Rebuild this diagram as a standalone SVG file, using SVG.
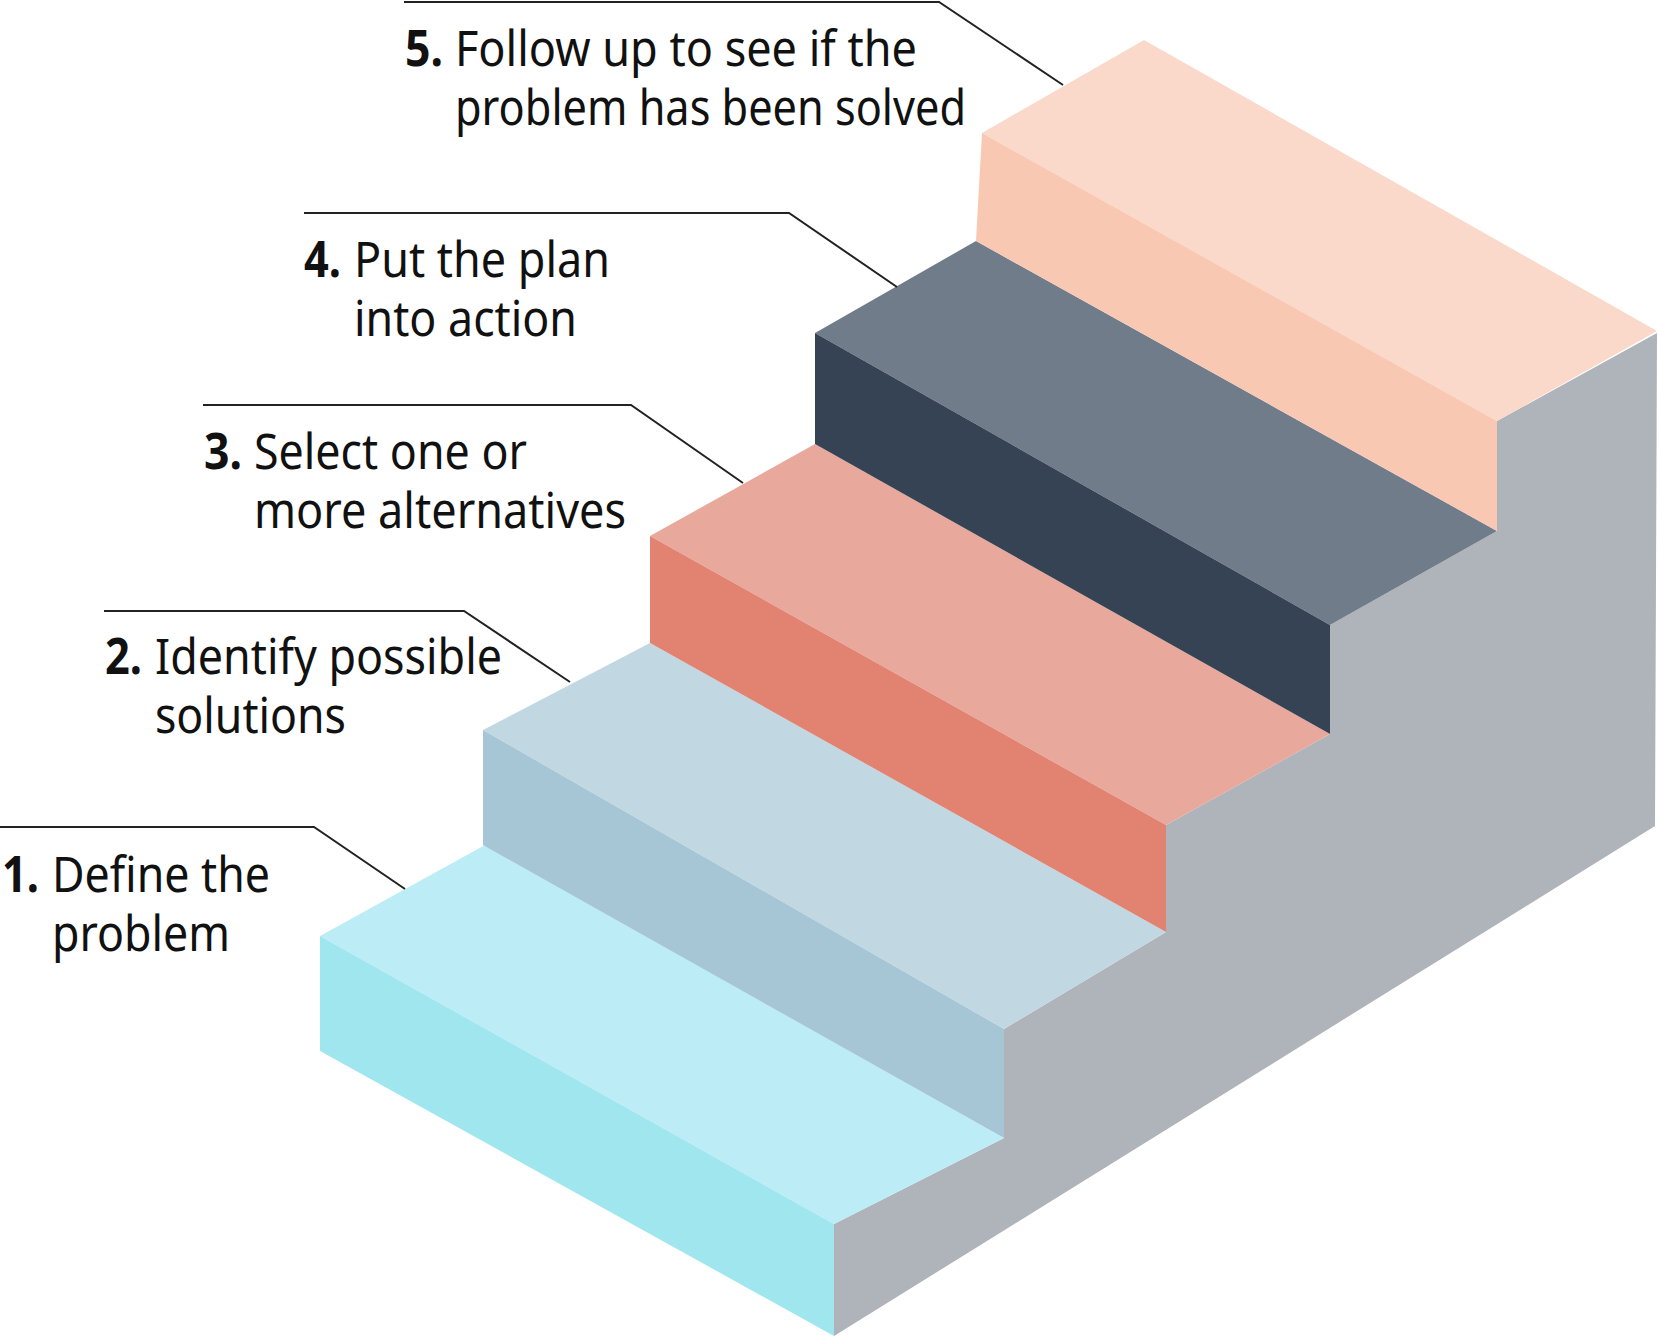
<svg xmlns="http://www.w3.org/2000/svg" width="1659" height="1337" viewBox="0 0 1659 1337">
<style>
.t{font-family:"Noto Sans","Open Sans","Liberation Sans",sans-serif;font-size:50px;fill:#111}
.b{font-weight:bold}
.ld{fill:none;stroke:#222;stroke-width:2}
</style>
<rect width="1659" height="1337" fill="#fff"/>
<g id="side">
<polygon fill="#AFB3BA" points="834,1336 834,1224 1004,1138 1004,1029 1166,932 1166,825 1330,734 1330,625 1497,531 1497,421 1657,333 1655,826"/>
</g>
<g id="step1">
<polygon fill="#BCEDF7" points="320,936 485,845 1004,1138 834,1224"/>
<polygon fill="#A0E6EF" points="320,936 834,1224 834,1336 320,1051"/>
</g>
<g id="step2">
<polygon fill="#C1D8E3" points="483,730 650,643 1166,932 1004,1029"/>
<polygon fill="#A7C6D5" points="483,730 1004,1029 1004,1138 483,845"/>
</g>
<g id="step3">
<polygon fill="#E8A89B" points="650,536 815,444 1330,734 1166,825"/>
<polygon fill="#E18370" points="650,536 1166,825 1166,932 650,643"/>
</g>
<g id="step4">
<polygon fill="#717C8A" points="815,333 976,241 1497,531 1330,625"/>
<polygon fill="#354354" points="815,333 1330,625 1330,734 815,444"/>
</g>
<g id="step5">
<polygon fill="#FAD9CA" points="982,133 1144,40 1657,331 1497,421"/>
<polygon fill="#F8C8B2" points="982,133 1497,421 1497,531 976,241"/>
</g>
<g id="connectors">
<polyline class="ld" points="404,2 939,2 1063,85"/>
<polyline class="ld" points="304,213 789,213 897,287"/>
<polyline class="ld" points="203,405 631,405 743,483"/>
<polyline class="ld" points="104,611 464,611 570,682"/>
<polyline class="ld" points="0,827 314,827 405,889"/>
</g>
<g id="label1">
<text class="t"><tspan class="b" x="2" y="892" textLength="37" lengthAdjust="spacingAndGlyphs">1.</tspan><tspan x="52" y="892" textLength="218" lengthAdjust="spacingAndGlyphs">Define the</tspan><tspan x="52" y="951" textLength="178" lengthAdjust="spacingAndGlyphs">problem</tspan></text>
</g>
<g id="label2">
<text class="t"><tspan class="b" x="105" y="674" textLength="37" lengthAdjust="spacingAndGlyphs">2.</tspan><tspan x="155" y="674" textLength="347" lengthAdjust="spacingAndGlyphs">Identify possible</tspan><tspan x="155" y="733" textLength="191" lengthAdjust="spacingAndGlyphs">solutions</tspan></text>
</g>
<g id="label3">
<text class="t"><tspan class="b" x="204" y="469" textLength="38" lengthAdjust="spacingAndGlyphs">3.</tspan><tspan x="254" y="469" textLength="273" lengthAdjust="spacingAndGlyphs">Select one or</tspan><tspan x="254" y="528" textLength="372" lengthAdjust="spacingAndGlyphs">more alternatives</tspan></text>
</g>
<g id="label4">
<text class="t"><tspan class="b" x="304" y="277" textLength="37" lengthAdjust="spacingAndGlyphs">4.</tspan><tspan x="354" y="277" textLength="256" lengthAdjust="spacingAndGlyphs">Put the plan</tspan><tspan x="354" y="336" textLength="223" lengthAdjust="spacingAndGlyphs">into action</tspan></text>
</g>
<g id="label5">
<text class="t"><tspan class="b" x="405" y="66" textLength="38" lengthAdjust="spacingAndGlyphs">5.</tspan><tspan x="455" y="66" textLength="462" lengthAdjust="spacingAndGlyphs">Follow up to see if the</tspan><tspan x="455" y="125" textLength="511" lengthAdjust="spacingAndGlyphs">problem has been solved</tspan></text>
</g>
</svg>
